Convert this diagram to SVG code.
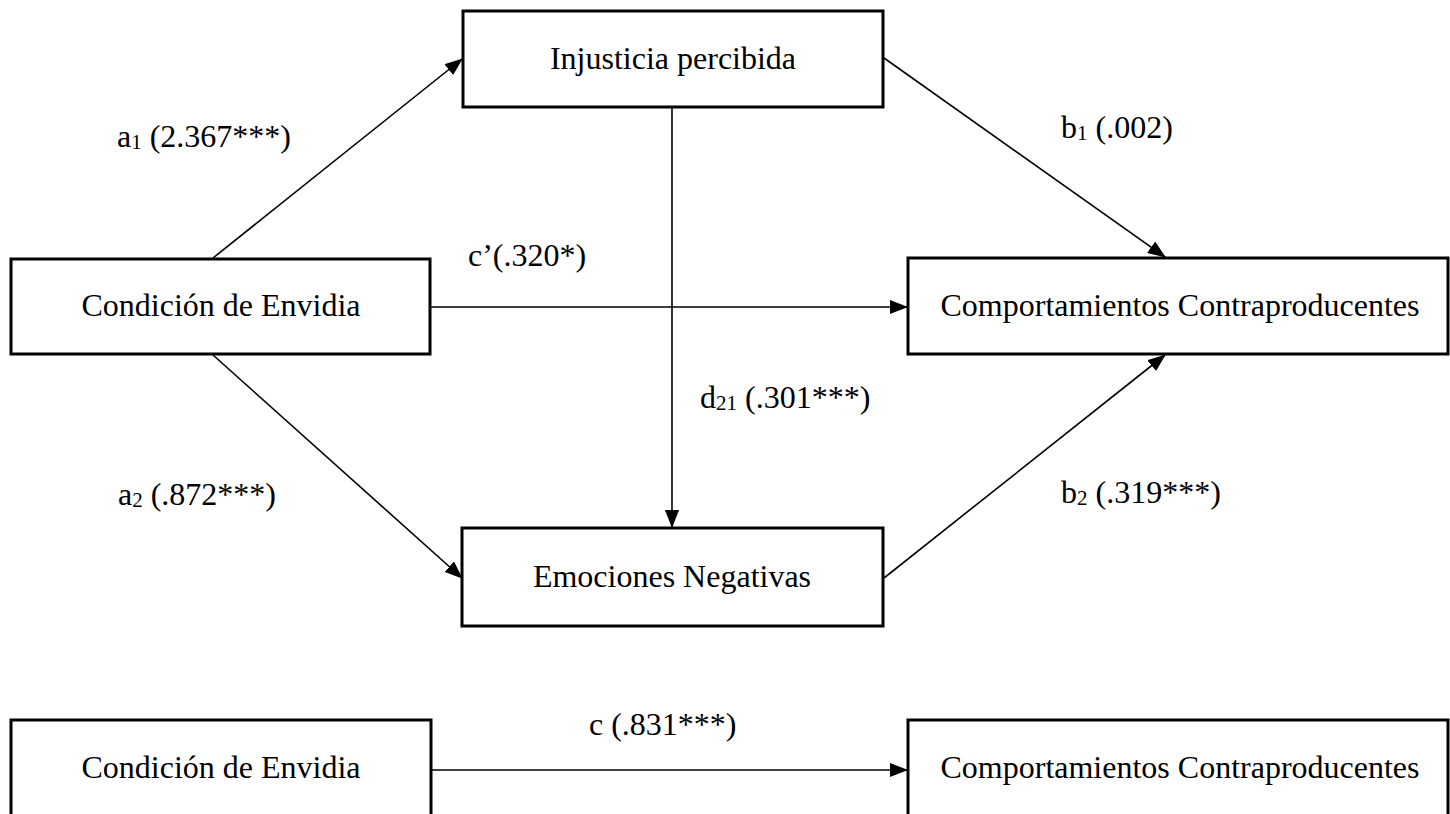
<svg xmlns="http://www.w3.org/2000/svg" width="1450" height="814" viewBox="0 0 1450 814">
<style>
.box{fill:#fff;stroke:#000;stroke-width:3}
.t{font-family:"Liberation Serif","Times New Roman",serif;font-size:32px;fill:#000}
.c{text-anchor:middle}
.edge{stroke:#000;stroke-width:1.6;fill:none;marker-end:url(#ah)}
.sub{font-size:21px}
</style>
<defs>
<marker id="ah" markerUnits="userSpaceOnUse" markerWidth="18" markerHeight="14" refX="17" refY="7" orient="auto">
<path d="M0,0 L18,7 L0,14 Z" fill="#000"/>
</marker>
</defs>
<g id="connectors">
<line class="edge" x1="213" y1="258" x2="462" y2="59"/>
<line class="edge" x1="884" y1="58" x2="1165" y2="257"/>
<line class="edge" x1="431" y1="307" x2="907" y2="307"/>
<line class="edge" x1="672" y1="108" x2="672" y2="527"/>
<line class="edge" x1="213" y1="355" x2="462" y2="578"/>
<line class="edge" x1="884" y1="578" x2="1165" y2="355"/>
<line class="edge" x1="432" y1="770" x2="907" y2="770"/>
</g>
<g id="labels">
<text class="t" x="117" y="147">a<tspan class="sub" dy="2">1</tspan><tspan dy="-2"> (2.367***)</tspan></text>
<text class="t" x="1061" y="138">b<tspan class="sub" dy="2">1</tspan><tspan dy="-2"> (.002)</tspan></text>
<text class="t" x="468" y="266">c’(.320*)</text>
<text class="t" x="700" y="408">d<tspan class="sub" dy="2">21</tspan><tspan dy="-2"> (.301***)</tspan></text>
<text class="t" x="118" y="505">a<tspan class="sub" dy="2">2</tspan><tspan dy="-2"> (.872***)</tspan></text>
<text class="t" x="1061" y="503">b<tspan class="sub" dy="2">2</tspan><tspan dy="-2"> (.319***)</tspan></text>
<text class="t" x="589" y="735">c (.831***)</text>
</g>
<g id="node-injusticia">
<rect class="box" x="463" y="11" width="420" height="96"/>
<text class="t c" x="673" y="69">Injusticia percibida</text>
</g>
<g id="node-condicion">
<rect class="box" x="11" y="259" width="419" height="95"/>
<text class="t c" x="221" y="316">Condición de Envidia</text>
</g>
<g id="node-comportamientos">
<rect class="box" x="908" y="258" width="540" height="96"/>
<text class="t c" x="1180" y="316">Comportamientos Contraproducentes</text>
</g>
<g id="node-emociones">
<rect class="box" x="462" y="528" width="421" height="98"/>
<text class="t c" x="672" y="587">Emociones Negativas</text>
</g>
<g id="node-condicion-2">
<rect class="box" x="11" y="720" width="420" height="110"/>
<text class="t c" x="221" y="778">Condición de Envidia</text>
</g>
<g id="node-comportamientos-2">
<rect class="box" x="908" y="720" width="540" height="110"/>
<text class="t c" x="1180" y="778">Comportamientos Contraproducentes</text>
</g>
</svg>
